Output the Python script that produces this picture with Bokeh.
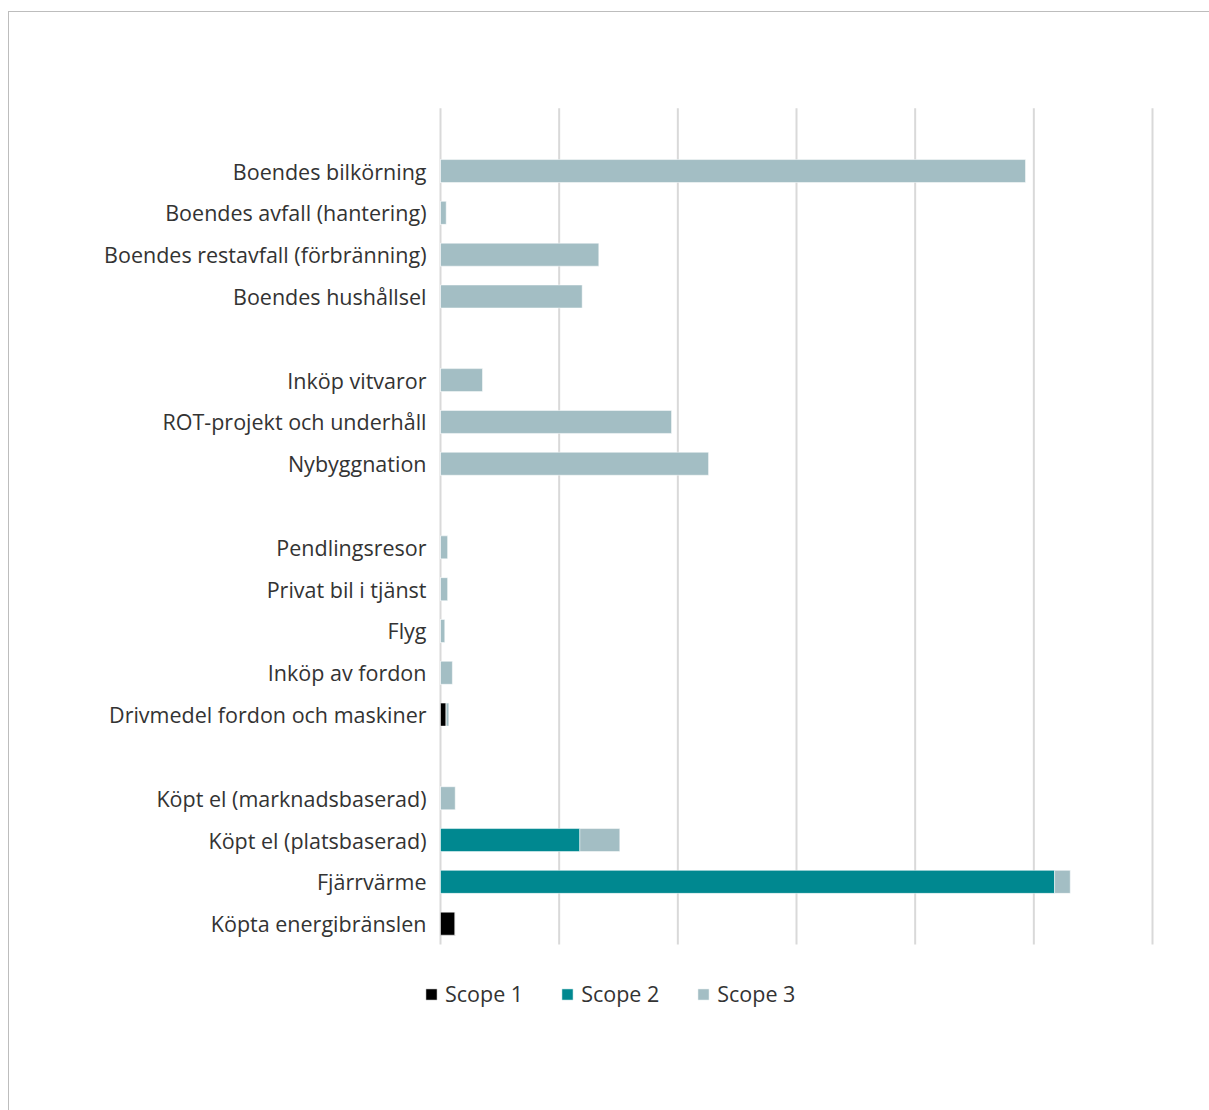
from bokeh.plotting import figure
from bokeh.models import ColumnDataSource, FixedTicker, Legend, Range1d
from bokeh.embed import file_html
from bokeh.resources import INLINE

# ---- data (one unit = one gridline step) ----
rows = ["", "Boendes bilkörning", "Boendes avfall (hantering)", "Boendes restavfall (förbränning)",
        "Boendes hushållsel", "", "Inköp vitvaror", "ROT-projekt och underhåll", "Nybyggnation",
        "", "Pendlingsresor", "Privat bil i tjänst", "Flyg", "Inköp av fordon",
        "Drivmedel fordon och maskiner", "", "Köpt el (marknadsbaserad)", "Köpt el (platsbaserad)",
        "Fjärrvärme", "Köpta energibränslen"]

categories = ["Boendes bilkörning", "Boendes avfall (hantering)", "Boendes restavfall (förbränning)",
              "Boendes hushållsel", "Inköp vitvaror", "ROT-projekt och underhåll", "Nybyggnation",
              "Pendlingsresor", "Privat bil i tjänst", "Flyg", "Inköp av fordon",
              "Drivmedel fordon och maskiner", "Köpt el (marknadsbaserad)", "Köpt el (platsbaserad)",
              "Fjärrvärme", "Köpta energibränslen"]
scope1 = [0, 0, 0, 0, 0, 0, 0, 0, 0, 0, 0, 0.048, 0, 0, 0, 0.124]
scope2 = [0, 0, 0, 0, 0, 0, 0, 0, 0, 0, 0, 0, 0, 1.174, 5.175, 0]
scope3 = [4.93, 0.048, 1.334, 1.194, 0.354, 1.947, 2.259, 0.06, 0.06, 0.036, 0.10, 0.022, 0.124, 0.337, 0.132, 0.0]
series = ["Scope 1", "Scope 2", "Scope 3"]
colors = ["#000000", "#008890", "#A3BEC4"]
grid_ticks = [0, 1, 2, 3, 4, 5, 6]

# row positions from the row order (top row = 0, going down)
row_pos = {i: -i for i in range(len(rows))}
cat_y = [row_pos[rows.index(c)] for c in categories]
y_top = row_pos[0] + 0.5
y_bottom = row_pos[len(rows) - 1] - 0.5

source = ColumnDataSource(dict(y=cat_y, s1=scope1, s2=scope2, s3=scope3))

FONT = "Open Sans"
TXT = "#333333"
UNIT = 118.65          # px per grid step
ROW = 41.85            # px per row

p = figure(width=1201, height=1099, output_backend="svg", toolbar_location=None,
           x_range=Range1d(-26 / UNIT, 6 + 2 / UNIT),
           y_range=Range1d(y_bottom - 95 / ROW, y_top + 0.02),
           min_border_left=405, min_border_right=56, min_border_top=95, min_border_bottom=72)
p.margin = (11, 0, 0, 8)
p.styles = {"border-top": "1px solid #bdbdbd", "border-left": "1px solid #bdbdbd"}

# gridlines
p.segment(x0=grid_ticks, x1=grid_ticks, y0=[y_top] * len(grid_ticks), y1=[y_bottom] * len(grid_ticks),
          line_color="#d9d9d9", line_width=2)

renderers = p.hbar_stack(["s1", "s2", "s3"], y="y", height=0.55, color=colors, source=source,
                         line_color="white", line_alpha=0.5, line_width=1)

p.outline_line_color = None
p.xaxis.visible = False
p.xgrid.grid_line_color = None
p.ygrid.grid_line_color = None

ax = p.yaxis[0]
ax.ticker = FixedTicker(ticks=cat_y)
ax.major_label_overrides = {y: c for y, c in zip(cat_y, categories)}
ax.axis_line_color = None
ax.major_tick_line_color = None
ax.minor_tick_line_color = None
ax.major_label_standoff = -18
ax.major_label_text_font = FONT
ax.major_label_text_font_size = "21.5px"
ax.major_label_text_color = TXT

legend = Legend(items=[(s, [r]) for s, r in zip(series, renderers)],
                orientation="horizontal", location=(10, 31))
legend.margin = 0
legend.padding = 0
legend.border_line_color = None
legend.background_fill_alpha = 0
legend.glyph_width = 14
legend.glyph_height = 14
legend.label_standoff = 7
legend.spacing = 37
legend.label_text_font = FONT
legend.label_text_font_size = "21.5px"
legend.label_text_color = TXT
p.add_layout(legend, "center")

open("out.html", "w").write(file_html(p, INLINE))
